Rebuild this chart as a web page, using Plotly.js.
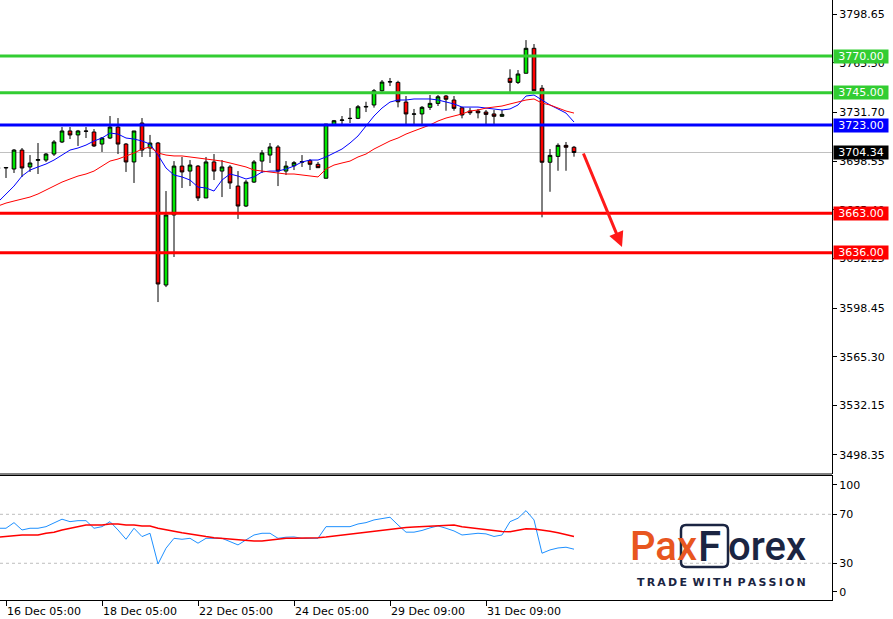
<!DOCTYPE html>
<html><head><meta charset="utf-8">
<script src="https://cdn.plot.ly/plotly-3.0.1.min.js"></script>
<style>html,body{margin:0;padding:0;background:#fff}#chart{width:893px;height:619px}</style>
</head><body><div id="chart"></div>
<script>
// ---- data (bar index -1 .. 71, H4 candles) ----
const openP = [3693.5,3693.8,3693.1,3706.0,3694.5,3699.0,3699.2,3703.3,3711.5,3719.0,3716.3,3719.0,3718.3,3710.1,3714.2,3721.7,3710.1,3697.9,3724.4,3707.4,3710.8,3614.1,3661.8,3695.1,3691.7,3695.1,3673.4,3697.9,3691.7,3694.5,3681.5,3667.9,3684.2,3698.5,3702.6,3708.1,3691.7,3695.3,3697.7,3698.8,3696.3,3686.8,3723.1,3726.2,3727.5,3727.6,3735.3,3736.7,3746.4,3752.3,3752.1,3738.7,3730.4,3730.6,3735.1,3737.8,3742.8,3740.1,3734.8,3732.6,3732.6,3731.9,3730.6,3729.0,3754.9,3752.1,3758.3,3775.3,3748.1,3697.7,3701.7,3709.2,3707.9];
const highP = [3695.1,3694.5,3706.7,3707.4,3702.6,3710.8,3704.0,3712.8,3721.7,3721.7,3719.7,3721.7,3720.3,3714.9,3729.2,3727.8,3710.8,3719.0,3727.8,3716.3,3711.5,3678.1,3698.5,3701.3,3699.2,3695.8,3701.3,3703.3,3699.2,3695.8,3691.7,3685.6,3699.2,3706.0,3710.8,3709.4,3698.5,3698.5,3702.6,3699.9,3697.9,3723.7,3726.5,3729.2,3734.6,3736.7,3738.9,3747.6,3753.7,3755.1,3753.2,3742.8,3734.0,3736.0,3743.5,3743.5,3743.5,3742.8,3735.5,3734.8,3734.0,3733.3,3733.3,3733.3,3761.0,3760.5,3780.9,3778.2,3750.3,3706.7,3710.6,3711.5,3708.8];
const lowP  = [3692.4,3687.0,3690.4,3687.7,3691.1,3689.7,3697.9,3702.0,3710.8,3713.5,3708.8,3714.2,3708.1,3704.7,3713.5,3703.3,3691.1,3683.6,3701.3,3701.3,3602.5,3612.7,3633.2,3680.2,3681.5,3671.3,3673.4,3685.6,3674.0,3679.5,3659.1,3667.2,3683.6,3690.4,3697.2,3681.5,3689.0,3692.4,3694.5,3692.4,3693.8,3686.8,3723.1,3723.7,3724.4,3727.1,3731.9,3734.9,3745.7,3749.6,3735.1,3723.1,3723.1,3723.1,3733.3,3736.0,3732.8,3732.8,3727.6,3729.9,3727.6,3723.7,3723.7,3728.7,3745.7,3751.0,3758.3,3746.4,3660.2,3677.6,3691.9,3691.9,3701.5];
const closeP = [3694.0,3694.1,3706.0,3693.8,3697.2,3699.5,3703.3,3711.5,3719.0,3716.3,3719.0,3718.8,3708.8,3714.2,3721.7,3710.1,3697.9,3719.0,3706.0,3710.8,3614.8,3661.8,3695.1,3691.1,3695.8,3673.4,3697.9,3691.7,3694.5,3683.6,3667.9,3684.2,3697.9,3704.0,3708.1,3691.7,3695.1,3697.4,3698.1,3696.3,3694.0,3723.7,3726.0,3726.5,3727.6,3735.5,3735.7,3746.4,3752.3,3752.6,3738.9,3730.6,3730.6,3735.1,3737.8,3742.3,3740.6,3734.4,3729.9,3731.4,3731.4,3730.3,3729.0,3730.3,3752.1,3757.8,3775.3,3746.4,3697.7,3702.4,3709.2,3707.9,3704.34];
const maFast = [3670.6,3676.1,3681.5,3688.3,3692.4,3694.5,3696.5,3699.2,3702.6,3706.0,3707.4,3709.4,3712.2,3714.2,3717.6,3716.9,3714.2,3713.5,3712.2,3710.1,3702.6,3693.8,3689.0,3687.7,3685.6,3680.8,3680.2,3678.1,3685.6,3689.7,3688.3,3686.3,3687.7,3691.1,3691.7,3691.7,3693.1,3695.1,3697.9,3699.2,3699.2,3701.3,3704.0,3706.7,3710.8,3715.6,3722.4,3729.2,3734.6,3738.7,3740.1,3740.1,3740.8,3740.8,3740.8,3740.1,3738.7,3737.4,3735.3,3735.3,3735.3,3734.6,3734.0,3733.3,3734.0,3736.7,3742.8,3743.5,3740.1,3736.7,3734.0,3731.2,3725.1];
const maSlow = [3667.9,3669.9,3671.3,3672.7,3674.0,3676.1,3678.8,3681.5,3684.2,3686.3,3688.3,3689.7,3691.7,3695.1,3698.5,3699.9,3702.0,3704.0,3706.7,3708.1,3704.0,3702.6,3702.0,3702.0,3701.3,3700.6,3699.9,3699.2,3698.5,3697.2,3695.8,3694.5,3692.4,3691.7,3691.1,3690.4,3689.7,3689.7,3689.0,3688.3,3687.7,3693.1,3695.8,3697.2,3698.5,3701.3,3703.3,3706.7,3709.4,3712.2,3714.2,3716.9,3719.0,3721.0,3723.1,3725.8,3727.8,3729.2,3730.6,3732.6,3733.3,3734.6,3735.3,3736.0,3737.4,3738.7,3740.1,3740.8,3738.0,3736.7,3734.6,3732.6,3731.2];
const rsiMain = [58.6,58.6,63.2,57.2,58.6,58.6,59.9,62.7,66.0,64.0,64.8,64.8,58.6,59.9,64.0,57.2,49.6,58.6,51.8,54.5,29.4,42.3,50.4,49.6,50.4,46.4,50.4,50.4,50.4,47.7,45.0,49.1,53.1,54.5,54.5,50.4,51.3,51.5,50.4,50.4,50.4,59.9,59.9,59.9,59.9,62.1,63.2,65.4,66.8,67.6,61.3,55.4,55.4,56.8,58.9,60.5,58.6,56.4,53.1,54.0,54.5,54.0,51.9,53.1,64.0,66.8,73.0,65.4,38.2,40.9,42.5,43.1,41.5];
const rsiSignal = [51.3,51.9,53.1,53.1,53.1,53.1,54.5,55.4,57.2,58.6,59.9,61.3,61.3,61.3,62.1,62.1,61.3,61.3,60.5,60.5,58.6,57.2,55.8,55.0,54.0,52.7,51.8,50.9,50.4,49.5,49.1,49.1,48.2,48.2,49.1,49.9,50.4,50.4,50.4,50.7,50.9,51.5,52.3,53.1,54.0,54.5,55.2,56.0,56.8,57.6,58.5,59.3,59.7,60.1,60.5,60.5,61.0,61.3,59.9,59.0,58.3,57.4,56.5,56.0,55.8,57.0,58.1,58.0,57.4,56.2,55.0,53.5,51.8];
const firstBar = -1;
const dateTickBars = [0,12,24,36,48,60];
const dateTickText = ['16 Dec 05:00','18 Dec 05:00','22 Dec 05:00','24 Dec 05:00','29 Dec 09:00','31 Dec 09:00'];
const priceTicks = [3798.65,3765.50,3731.70,3698.55,3665.40,3632.25,3598.45,3565.30,3532.15,3498.35];
const levels = [3770.00,3745.00,3723.00,3663.00,3636.00];
const levelColors = ['#32cd32','#32cd32','#0000ff','#ff0000','#ff0000'];
const currentPrice = 3704.34;
const rsiLevels = [70,30];
const rsiTickVals = [94,70,30,6.6];
const rsiTickText = ['100','70','30','0'];
const arrowFrom = [72.1, 3704.7];
const arrowTo = [77.0, 3640.0];

const xs = openP.map((_, i) => i + firstBar);
const FONT = 'DejaVu Sans';

const traces = [
  {type:'candlestick', x:xs, open:openP, high:highP, low:lowP, close:closeP, xaxis:'x', yaxis:'y',
   increasing:{fillcolor:'#00e600', line:{color:'#000', width:1}},
   decreasing:{fillcolor:'#ff0000', line:{color:'#000', width:1}},
   whiskerwidth:0, hoverinfo:'skip', showlegend:false},
  {type:'scatter', mode:'lines', x:xs, y:maFast, line:{color:'#0000ff', width:1}, xaxis:'x', yaxis:'y', hoverinfo:'skip', showlegend:false},
  {type:'scatter', mode:'lines', x:xs, y:maSlow, line:{color:'#ff0000', width:1}, xaxis:'x', yaxis:'y', hoverinfo:'skip', showlegend:false},
  {type:'scatter', mode:'lines', x:xs, y:rsiMain, line:{color:'#1e90ff', width:1}, xaxis:'x', yaxis:'y2', hoverinfo:'skip', showlegend:false},
  {type:'scatter', mode:'lines', x:xs, y:rsiSignal, line:{color:'#ff0000', width:1.5}, xaxis:'x', yaxis:'y2', hoverinfo:'skip', showlegend:false}
];

const shapes = [];
shapes.push({type:'line', xref:'paper', x0:0, x1:1, yref:'y', y0:currentPrice, y1:currentPrice, line:{color:'#c0c0c0', width:1}, layer:'below'});
rsiLevels.forEach(v => shapes.push({type:'line', xref:'paper', x0:0, x1:1, yref:'y2', y0:v, y1:v, line:{color:'#bdbdbd', width:1, dash:'3px,3px'}, layer:'below'}));
levels.forEach((v,i) => shapes.push({type:'line', xref:'paper', x0:0, x1:1, yref:'y', y0:v, y1:v, line:{color:levelColors[i], width:3}}));
shapes.push({type:'line', xref:'paper', x0:0, x1:1, yref:'y domain', y0:0, y1:0, line:{color:'#000', width:1}});
// logo frame around the F
(function(){
  const px = x => x/832, py = y => (600-y)/600;
  const x0=681,x1=728,y0=525,y1=567,r=5;
  const d = `M ${px(x0+r)},${py(y0)} L ${px(x1-r)},${py(y0)} Q ${px(x1)},${py(y0)} ${px(x1)},${py(y0+r)} L ${px(x1)},${py(y1-r)} Q ${px(x1)},${py(y1)} ${px(x1-r)},${py(y1)} L ${px(x0+r)},${py(y1)} Q ${px(x0)},${py(y1)} ${px(x0)},${py(y1-r)} L ${px(x0)},${py(y0+r)} Q ${px(x0)},${py(y0)} ${px(x0+r)},${py(y0)} Z`;
  shapes.push({type:'path', xref:'paper', yref:'paper', path:d, line:{color:'#1b2542', width:2.5}, layer:'above'});
})();

const annotations = [];
levels.forEach((v,i) => annotations.push({xref:'paper', x:1, xanchor:'left', xshift:1, yref:'y', y:v, yanchor:'middle',
  text:v.toFixed(2), showarrow:false, bgcolor:levelColors[i], font:{family:FONT, size:11, color:'#fff'}, width:54, height:13, borderpad:0, align:'center'}));
annotations.push({xref:'paper', x:1, xanchor:'left', xshift:1, yref:'y', y:currentPrice, yanchor:'middle',
  text:currentPrice.toFixed(2), showarrow:false, bgcolor:'#000', font:{family:FONT, size:11, color:'#fff'}, width:54, height:13, borderpad:0, align:'center'});
annotations.push({xref:'x', yref:'y', x:arrowTo[0], y:arrowTo[1], axref:'x', ayref:'y', ax:arrowFrom[0], ay:arrowFrom[1],
  text:'', showarrow:true, arrowhead:2, arrowsize:1, arrowwidth:3, arrowcolor:'#ff1a1a', standoff:0});
// logo
annotations.push({xref:'paper', yref:'paper', x:699/832, y:0.09, xanchor:'right', yanchor:'middle', text:'Pax', showarrow:false,
  font:{family:'Roboto', size:40, weight:500, color:'#e8561f'}});
annotations.push({xref:'paper', yref:'paper', x:709/832, y:0.09, xanchor:'center', yanchor:'middle', text:'F', showarrow:false,
  font:{family:'Roboto', size:42, weight:500, color:'#1b2542'}});
annotations.push({xref:'paper', yref:'paper', x:726/832, y:0.09, xanchor:'left', yanchor:'middle', text:'orex', showarrow:false,
  font:{family:'Roboto', size:40, weight:500, color:'#1b2542'}});
annotations.push({xref:'paper', yref:'paper', x:721.5/832, y:(600-582.5)/600, xanchor:'center', yanchor:'middle',
  text:'T\u2009R\u2009A\u2009D\u2009E\u2002W\u2009I\u2009T\u2009H\u2002P\u2009A\u2009S\u2009S\u2009I\u2009O\u2009N', showarrow:false,
  font:{family:FONT, size:11, weight:700, color:'#1b2542'}});

const layout = {
  width:893, height:619, margin:{l:0, r:61, t:0, b:19},
  paper_bgcolor:'#fff', plot_bgcolor:'#fff', showlegend:false, boxgap:0.35,
  xaxis:{domain:[0,1], anchor:'y2', range:[-0.75,103.25], tickvals:dateTickBars, ticktext:dateTickText,
    ticks:'outside', ticklen:5, tickcolor:'#000', showline:true, linecolor:'#000', linewidth:1, mirror:true,
    showgrid:false, zeroline:false, rangeslider:{visible:false}, ticklabelshift:38, ticklabelstandoff:-4,
    tickfont:{family:FONT, size:11, color:'#000'}, fixedrange:true},
  yaxis:{domain:[0.21,1], anchor:'x', side:'right', range:[3485.4,3808.2], tickvals:priceTicks,
    ticktext:priceTicks.map(v=>v.toFixed(2)), ticks:'outside', ticklen:4, tickcolor:'#000',
    showline:true, linecolor:'#000', linewidth:1, showgrid:false, zeroline:false,
    tickfont:{family:FONT, size:11, color:'#000'}, fixedrange:true},
  yaxis2:{domain:[0,0.2067], anchor:'x', side:'right', range:[0,101.3], tickvals:rsiTickVals, ticktext:rsiTickText,
    ticks:'outside', ticklen:4, tickcolor:'#000', showline:true, linecolor:'#000', linewidth:1,
    showgrid:false, zeroline:false, tickfont:{family:FONT, size:11, color:'#000'}, fixedrange:true},
  shapes:shapes, annotations:annotations
};
Plotly.newPlot('chart', traces, layout, {displayModeBar:false, staticPlot:true});
</script></body></html>
